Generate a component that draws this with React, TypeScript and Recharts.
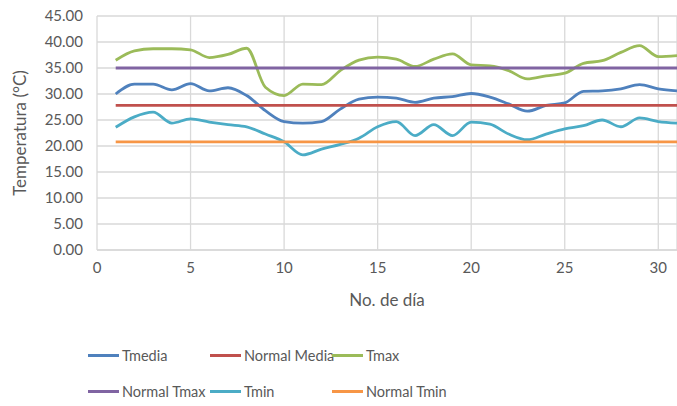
import {
	CartesianGrid,
	Line,
	LineChart,
	XAxis,
	YAxis,
} from "recharts";

const days = [
	1, 2, 3, 4, 5, 6, 7, 8, 9, 10, 11, 12, 13, 14, 15, 16, 17, 18, 19, 20, 21,
	22, 23, 24, 25, 26, 27, 28, 29, 30, 31,
];

const tmedia = [
	30.0, 31.9, 31.9, 30.8, 32.0, 30.6, 31.2, 29.7, 26.8, 24.7, 24.4, 24.7,
	27.1, 29.0, 29.4, 29.2, 28.4, 29.2, 29.5, 30.1, 29.4, 28.1, 26.7, 27.8,
	28.3, 30.5, 30.6, 31.0, 31.8, 31.0, 30.6,
];

const tmax = [
	36.5, 38.3, 38.7, 38.7, 38.5, 37.0, 37.6, 38.8, 31.3, 29.7, 31.9, 31.8,
	34.5, 36.5, 37.1, 36.7, 35.3, 36.7, 37.7, 35.6, 35.4, 34.5, 32.9, 33.5,
	34.0, 35.9, 36.4, 38.0, 39.3, 37.2, 37.4,
];

const tmin = [
	23.6, 25.6, 26.5, 24.4, 25.2, 24.6, 24.1, 23.7, 22.3, 20.8, 18.3, 19.4,
	20.3, 21.5, 23.7, 24.7, 22.0, 24.1, 22.0, 24.6, 24.2, 22.3, 21.2, 22.3,
	23.3, 23.9, 25.0, 23.7, 25.4, 24.7, 24.4,
];

const NORMAL_MEDIA = 27.8;
const NORMAL_TMAX = 35.0;
const NORMAL_TMIN = 20.8;

const xTicks = [0, 5, 10, 15, 20, 25, 30];
const yTicks = [0, 5, 10, 15, 20, 25, 30, 35, 40, 45];

const data = days.map((d, i) => ({
	day: d,
	tmedia: tmedia[i],
	normalMedia: NORMAL_MEDIA,
	tmax: tmax[i],
	normalTmax: NORMAL_TMAX,
	tmin: tmin[i],
	normalTmin: NORMAL_TMIN,
}));

const series = [
	{ key: "tmedia", name: "Tmedia", color: "#4F81BD" },
	{ key: "normalMedia", name: "Normal Media", color: "#C0504D" },
	{ key: "tmax", name: "Tmax", color: "#9BBB59" },
	{ key: "normalTmax", name: "Normal Tmax", color: "#8064A2" },
	{ key: "tmin", name: "Tmin", color: "#4BACC6" },
	{ key: "normalTmin", name: "Normal Tmin", color: "#F79646" },
];

const FONT = "Lato, 'Open Sans', sans-serif";
const TEXT = "#595959";

const LegendBox = () => (
	<div style={{ position: "absolute", left: 88, top: 347, width: 400 }}>
		{series.map((s, i) => (
			<div
				key={s.key}
				style={{
					position: "absolute",
					left: (i % 3) * 122,
					top: Math.floor(i / 3) * 36,
					display: "flex",
					alignItems: "center",
					whiteSpace: "nowrap",
					fontFamily: FONT,
					fontSize: 14.5,
					color: TEXT,
				}}
			>
				<span
					style={{
						display: "inline-block",
						width: 31,
						height: 3,
						background: s.color,
						marginRight: 3,
					}}
				/>
				{s.name}
			</div>
		))}
	</div>
);

const App = () => {
	return (
		<div
			style={{
				position: "absolute",
				left: 0,
				top: 0,
				width: 677,
				height: 406,
				background: "#fff",
			}}
		>
			<LineChart
				width={677}
				height={406}
				data={data}
				margin={{ top: 16, right: 0, bottom: 126, left: 0 }}
			>
				<CartesianGrid stroke="#d9d9d9" strokeWidth={1.3} />
				<XAxis
					dataKey="day"
					type="number"
					domain={[0, 31]}
					ticks={xTicks}
					allowDataOverflow
					axisLine={{ stroke: "#d9d9d9", strokeWidth: 1.3 }}
					tickLine={false}
					tickMargin={6}
					tick={{ fill: TEXT, fontSize: 15, fontFamily: FONT }}
					label={{
						value: "No. de día",
						position: "bottom",
						offset: 14,
						fill: TEXT,
						fontSize: 17,
						fontFamily: FONT,
					}}
				/>
				<YAxis
					type="number"
					domain={[0, 45]}
					ticks={yTicks}
					width={97}
					axisLine={false}
					tickLine={false}
					tickMargin={8}
					tickFormatter={(v: number) => v.toFixed(2)}
					tick={{ fill: TEXT, fontSize: 15, fontFamily: FONT }}
					label={{
						value: "Temperatura (°C)",
						angle: -90,
						position: "insideLeft",
						offset: 20,
						style: { textAnchor: "middle" },
						fill: TEXT,
						fontSize: 17,
						fontFamily: FONT,
					}}
				/>
				{series.map((s) => (
					<Line
						key={s.key}
						dataKey={s.key}
						name={s.name}
						type="monotone"
						stroke={s.color}
						strokeWidth={2.8}
						dot={false}
						activeDot={false}
						isAnimationActive={false}
					/>
				))}
			</LineChart>
			<LegendBox />
		</div>
	);
};

export default App;
